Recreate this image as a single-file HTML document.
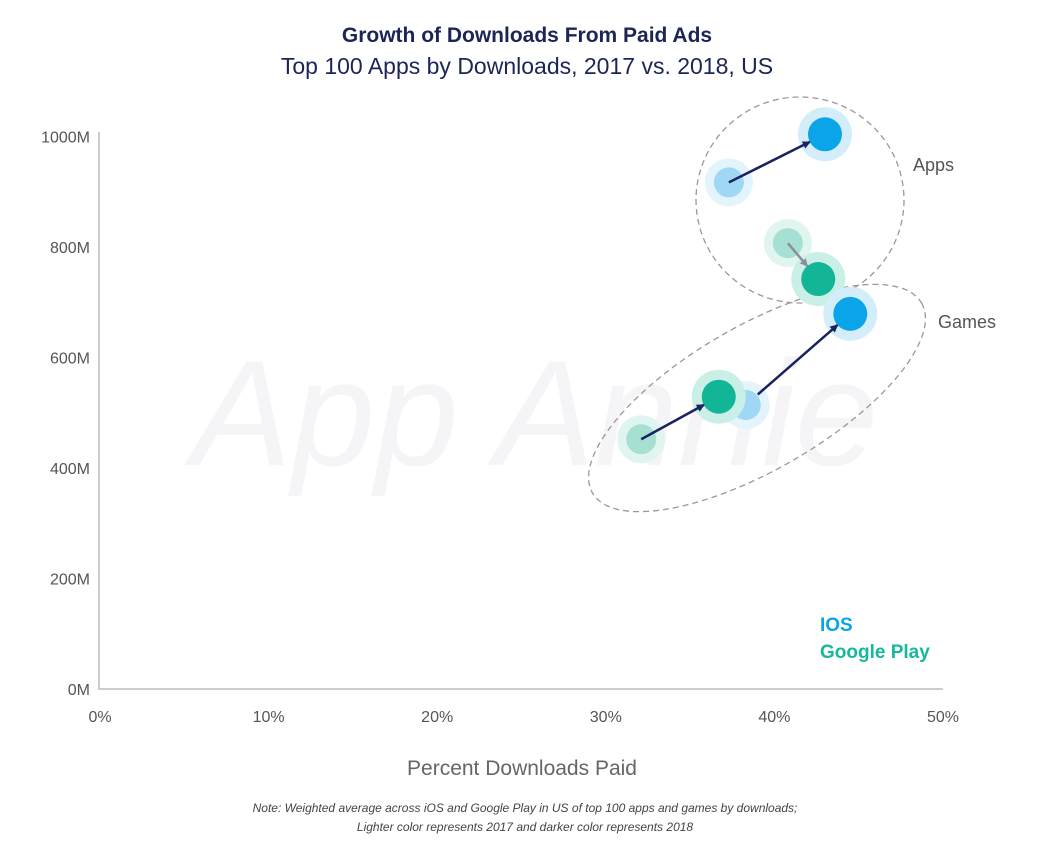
<!DOCTYPE html>
<html><head><meta charset="utf-8"><style>
html,body{margin:0;padding:0;background:#fff;width:1057px;height:851px;overflow:hidden}
svg{display:block;font-family:"Liberation Sans",sans-serif}
</style></head><body>
<svg id="chart" width="1057" height="851" viewBox="0 0 1057 851">
<defs>
<marker id="ah" markerWidth="8" markerHeight="8" refX="7" refY="4" orient="auto" markerUnits="userSpaceOnUse"><path d="M0,0 L8,4 L0,8 Z" fill="#1a2360"/></marker>
<marker id="ahg" markerWidth="8" markerHeight="8" refX="7" refY="4" orient="auto" markerUnits="userSpaceOnUse"><path d="M0,0 L8,4 L0,8 Z" fill="#8a8f9e"/></marker>
</defs>
<text x="527" y="42" text-anchor="middle" font-size="21" font-weight="bold" fill="#1b2556">Growth of Downloads From Paid Ads</text>
<text x="527" y="74" text-anchor="middle" font-size="23" fill="#1b2556">Top 100 Apps by Downloads, 2017 vs. 2018, US</text>
<text x="535" y="465" text-anchor="middle" font-size="150" font-style="italic" fill="#f5f5f7">App Annie</text>
<text transform="translate(0,400) rotate(-90)" text-anchor="middle" font-size="20" fill="#9cc9e0">Total Downloads</text>
<g id="axes"></g>
<g id="groups"></g>
<g id="marks"></g>
<text x="820" y="631" font-size="19" font-weight="bold" fill="#0aa5e8">IOS</text>
<text x="820" y="658" font-size="19" font-weight="bold" fill="#17b99b">Google Play</text>
<text x="522" y="775" text-anchor="middle" font-size="21" fill="#666">Percent Downloads Paid</text>
<text x="525" y="812" text-anchor="middle" font-size="12" font-style="italic" fill="#444">Note: Weighted average across iOS and Google Play in US of top 100 apps and games by downloads;</text>
<text x="525" y="831" text-anchor="middle" font-size="12" font-style="italic" fill="#444">Lighter color represents 2017 and darker color represents 2018</text>
</svg>
<script>
const xTicks=[0,10,20,30,40,50];
const yTicks=[0,200,400,600,800,1000];
const seriesNames=["ios-apps","gp-apps","ios-games","gp-games"];
const pct2017=[37.3,40.8,38.3,32.1];
const dl2017=[917,807,514,452];
const pct2018=[43.0,42.6,44.5,36.7];
const dl2018=[1004,742,679,529];
const platform=["ios","gp","ios","gp"];
const NS="http://www.w3.org/2000/svg";
const X=v=>100+v*16.86, Y=v=>689-v*0.5525;
function mk(t,a,p){const e=document.createElementNS(NS,t);for(const k in a)e.setAttribute(k,a[k]);p.appendChild(e);return e;}
const ax=document.getElementById('axes');
let l=mk('line',{x1:99,y1:132,x2:99,y2:689,stroke:'#ccc','stroke-width':2},ax);


l=mk('line',{x1:98,y1:689,x2:943,y2:689,stroke:'#ccc','stroke-width':2},ax);


yTicks.forEach(v=>{const t=mk('text',{x:90,y:Y(v)+6,'text-anchor':'end','font-size':16,fill:'#555'},ax);t.textContent=v+'M';

});
xTicks.forEach(v=>{const t=mk('text',{x:X(v),y:722,'text-anchor':'middle','font-size':16,fill:'#555'},ax);t.textContent=v+'%';

});
const g=document.getElementById('groups');
let e=mk('ellipse',{cx:800,cy:200,rx:104,ry:103,fill:'none',stroke:'#999','stroke-width':1.3,'stroke-dasharray':'6,4'},g);


e=mk('ellipse',{cx:757,cy:398,rx:190,ry:72,transform:'rotate(-30 757 398)',fill:'none',stroke:'#999','stroke-width':1.3,'stroke-dasharray':'6,4'},g);


let t=mk('text',{x:913,y:171,'font-size':18,fill:'#555'},g);t.textContent='Apps';


t=mk('text',{x:938,y:328,'font-size':18,fill:'#555'},g);t.textContent='Games';


const m=document.getElementById('marks');
const col={ios:{d:'#0aa5e8',l:'#9fd8f4',h:'#d3eefa',hl:'#e3f4fc'},gp:{d:'#12b596',l:'#a6e0d3',h:'#c9efe6',hl:'#e0f5f0'}};
for(let i=0;i<seriesNames.length;i++){
 const c=col[platform[i]];
 const x1=X(pct2017[i]),y1=Y(dl2017[i]),x2=X(pct2018[i]),y2=Y(dl2018[i]);
 let h=mk('circle',{cx:x1,cy:y1,r:24,fill:c.hl},m);
 
 
 let p=mk('circle',{cx:x1,cy:y1,r:15,fill:c.l},m);
 
 
 h=mk('circle',{cx:x2,cy:y2,r:27,fill:c.h},m);
 
 
 p=mk('circle',{cx:x2,cy:y2,r:17,fill:c.d},m);
 
 
}
for(let i=0;i<seriesNames.length;i++){
 const x1=X(pct2017[i]),y1=Y(dl2017[i]),x2=X(pct2018[i]),y2=Y(dl2018[i]);
 const dx=x2-x1,dy=y2-y1,d=Math.hypot(dx,dy);
 const s=i===2?16:0, en=Math.min(17,d*0.4);
 const gray=i===1;
 const a=mk('line',{x1:x1+dx/d*s,y1:y1+dy/d*s,x2:x2-dx/d*en,y2:y2-dy/d*en,stroke:gray?'#8a8f9e':'#1a2360','stroke-width':2.5,'marker-end':gray?'url(#ahg)':'url(#ah)'},m);
 
 
}
</script>
</body></html>
